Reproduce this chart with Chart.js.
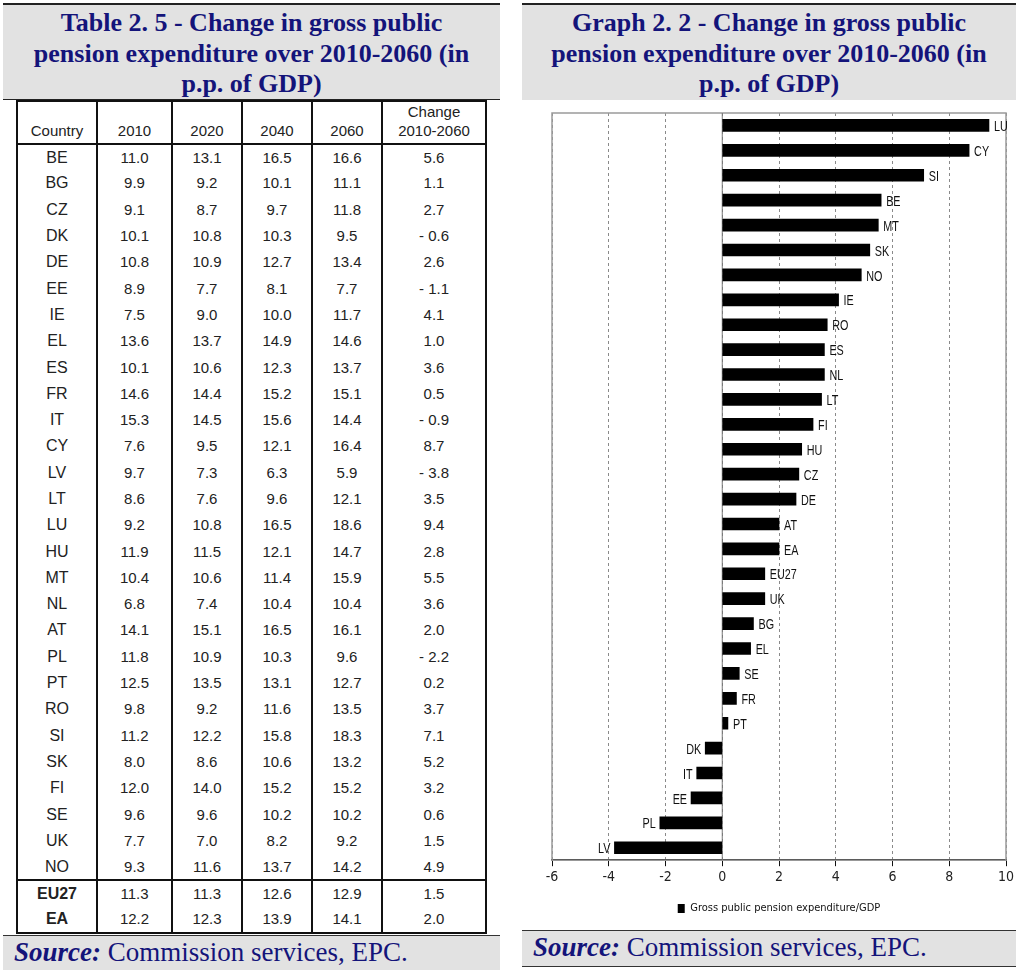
<!DOCTYPE html>
<html>
<head>
<meta charset="utf-8">
<script src="https://cdn.jsdelivr.net/npm/chart.js@4.4.1/dist/chart.umd.min.js"></script>
<style>
  body { margin:0; background:#fff; width:1024px; height:970px; position:relative; overflow:hidden; }
  .title { position:absolute; top:3px; height:97px; background:#e2e2e2; border-top:2px solid #222;
           font:bold 26px "Liberation Serif", "Times New Roman", serif; color:#14147a;
           text-align:center; line-height:30.5px; padding-top:3px; box-sizing:border-box; }
  .source { position:absolute; background:#e2e2e2; border-top:1.5px solid #333;
            font:27px "Liberation Serif", "Times New Roman", serif; color:#14147a;
            box-sizing:border-box; padding-left:11px; line-height:32px; }
  .source b { font-style:italic; }
  table { position:absolute; left:16px; top:100px; border-collapse:collapse; table-layout:fixed;
          font:15px "Liberation Sans", Arial, sans-serif; color:#222; }
  tr { height:26.3px; }
  tr.h { height:43px; }
  td, th { border-left:2px solid #111; border-right:2px solid #111; text-align:center;
           padding:0; line-height:16px; font-weight:normal; vertical-align:middle; }
  th { vertical-align:bottom; padding-bottom:3px; line-height:19px; border-top:2px solid #111; border-bottom:2px solid #111; }
  tr.first-agg td { border-top:2px solid #111; }
  tr.last td { border-bottom:2px solid #111; }
  td.c { font-size:16px; }
  tr.agg td.c { font-weight:bold; }
  #wrap { position:absolute; left:522px; top:100px; width:500px; height:830px; }
</style>
</head>
<body>

<div class="title" style="left:3px;width:497px;border-bottom:1.5px solid #222;">Table 2. 5 - Change in gross public<br>pension expenditure over 2010-2060 (in<br>p.p. of GDP)</div>

<table id="tbl"></table>

<div class="source" style="left:3px;top:935px;width:497px;height:35px;"><b>Source:</b> Commission services, EPC.</div>

<div class="title" style="left:522px;width:494px;">Graph 2. 2 - Change in gross public<br>pension expenditure over 2010-2060 (in<br>p.p. of GDP)</div>

<div id="wrap"><canvas id="myChart"></canvas></div>

<div class="source" style="left:522px;top:930px;width:494px;height:37px;border-bottom:1.5px solid #333;"><b>Source:</b> Commission services, EPC.</div>

<script>
// table data (p.p. of GDP)
const countries = ["BE","BG","CZ","DK","DE","EE","IE","EL","ES","FR","IT","CY","LV","LT","LU","HU","MT","NL","AT","PL","PT","RO","SI","SK","FI","SE","UK","NO","EU27","EA"];
const v2010  = [11.0, 9.9, 9.1,10.1,10.8, 8.9, 7.5,13.6,10.1,14.6,15.3, 7.6, 9.7, 8.6, 9.2,11.9,10.4, 6.8,14.1,11.8,12.5, 9.8,11.2, 8.0,12.0, 9.6, 7.7, 9.3,11.3,12.2];
const v2020  = [13.1, 9.2, 8.7,10.8,10.9, 7.7, 9.0,13.7,10.6,14.4,14.5, 9.5, 7.3, 7.6,10.8,11.5,10.6, 7.4,15.1,10.9,13.5, 9.2,12.2, 8.6,14.0, 9.6, 7.0,11.6,11.3,12.3];
const v2040  = [16.5,10.1, 9.7,10.3,12.7, 8.1,10.0,14.9,12.3,15.2,15.6,12.1, 6.3, 9.6,16.5,12.1,11.4,10.4,16.5,10.3,13.1,11.6,15.8,10.6,15.2,10.2, 8.2,13.7,12.6,13.9];
const v2060  = [16.6,11.1,11.8, 9.5,13.4, 7.7,11.7,14.6,13.7,15.1,14.4,16.4, 5.9,12.1,18.6,14.7,15.9,10.4,16.1, 9.6,12.7,13.5,18.3,13.2,15.2,10.2, 9.2,14.2,12.9,14.1];
const change = [ 5.6, 1.1, 2.7,-0.6, 2.6,-1.1, 4.1, 1.0, 3.6, 0.5,-0.9, 8.7,-3.8, 3.5, 9.4, 2.8, 5.5, 3.6, 2.0,-2.2, 0.2, 3.7, 7.1, 5.2, 3.2, 0.6, 1.5, 4.9, 1.5, 2.0];

// order of the bars in the graph
const graphOrder = ["LU","CY","SI","BE","MT","SK","NO","IE","RO","ES","NL","LT","FI","HU","CZ","DE","AT","EA","EU27","UK","BG","EL","SE","FR","PT","DK","IT","EE","PL","LV"];
const graphValues = graphOrder.map(c => change[countries.indexOf(c)]);

const xTicks = [-6,-4,-2,0,2,4,6,8,10];

// build the table
const fmt = v => v.toFixed(1).replace("-", "- ");
let html = '<colgroup><col style="width:80px"><col style="width:75px"><col style="width:70px"><col style="width:70px"><col style="width:70px"><col style="width:104px"></colgroup>';
html += '<tr class="h"><th>Country</th><th>2010</th><th>2020</th><th>2040</th><th>2060</th><th>Change<br>2010-2060</th></tr>';
countries.forEach((c, i) => {
  let cls = "";
  if (c === "EU27") cls = "agg first-agg";
  else if (c === "EA") cls = "agg last";
  html += `<tr class="${cls}"><td class="c">${c}</td><td>${v2010[i].toFixed(1)}</td><td>${v2020[i].toFixed(1)}</td><td>${v2040[i].toFixed(1)}</td><td>${v2060[i].toFixed(1)}</td><td>${fmt(change[i])}</td></tr>`;
});
document.getElementById("tbl").innerHTML = html;

const narrow = '"Liberation Sans Narrow", "Arial Narrow", "DejaVu Sans Condensed", sans-serif';

// frame of plot area + solid zero line
const framePlugin = {
  id: "frame",
  beforeDatasetsDraw(chart) {
    const {ctx, chartArea: a, scales} = chart;
    ctx.save();
    ctx.strokeStyle = "#9a9a9a";
    ctx.lineWidth = 1.5;
    ctx.strokeRect(a.left, a.top, a.right - a.left, a.bottom - a.top);
    const x0 = scales.x.getPixelForValue(0);
    ctx.strokeStyle = "#777";
    ctx.lineWidth = 1;
    ctx.beginPath(); ctx.moveTo(x0, a.top); ctx.lineTo(x0, a.bottom); ctx.stroke();
    ctx.restore();
  }
};

// country name at the end of each bar, squeezed to look like a narrow font
const labelPlugin = {
  id: "barLabels",
  afterDatasetsDraw(chart) {
    const ctx = chart.ctx;
    const meta = chart.getDatasetMeta(0);
    meta.data.forEach((bar, i) => {
      const neg = graphValues[i] < 0;
      ctx.save();
      ctx.translate(bar.x + (neg ? -4 : 5), bar.y + 1.5);
      ctx.scale(0.72, 1);
      ctx.font = "15px 'Liberation Sans', Arial, sans-serif";
      ctx.fillStyle = "#111";
      ctx.textBaseline = "middle";
      ctx.textAlign = neg ? "right" : "left";
      ctx.fillText(graphOrder[i], 0, 0);
      ctx.restore();
    });
  }
};

new Chart(document.getElementById("myChart"), {
  type: "bar",
  data: {
    labels: graphOrder,
    datasets: [{
      label: "Gross public pension expenditure/GDP",
      data: graphValues,
      backgroundColor: "#000",
      borderWidth: 0,
      barThickness: 12
    }]
  },
  options: {
    indexAxis: "y",
    responsive: true,
    maintainAspectRatio: false,
    animation: false,
    layout: { padding: { left: 30, right: 16, top: 13, bottom: 6 } },
    plugins: {
      legend: {
        position: "bottom",
        labels: { boxWidth: 7, boxHeight: 9, padding: 14, color: "#111", font: { size: 11, family: narrow } }
      },
      tooltip: { enabled: false }
    },
    scales: {
      x: {
        min: -6, max: 10,
        afterBuildTicks: s => { s.ticks = xTicks.map(v => ({value: v})); },
        grid: { color: "#8a8a8a", lineWidth: 1, drawTicks: true, tickLength: 6, tickColor: "#111", tickBorderDash: [] },
        border: { display: true, color: "#111", width: 1.5, dash: [3, 3] },
        ticks: { color: "#222", padding: 3, font: { size: 14, family: narrow } }
      },
      y: {
        display: false,
        grid: { display: false }
      }
    }
  },
  plugins: [framePlugin, labelPlugin]
});
</script>
</body>
</html>
